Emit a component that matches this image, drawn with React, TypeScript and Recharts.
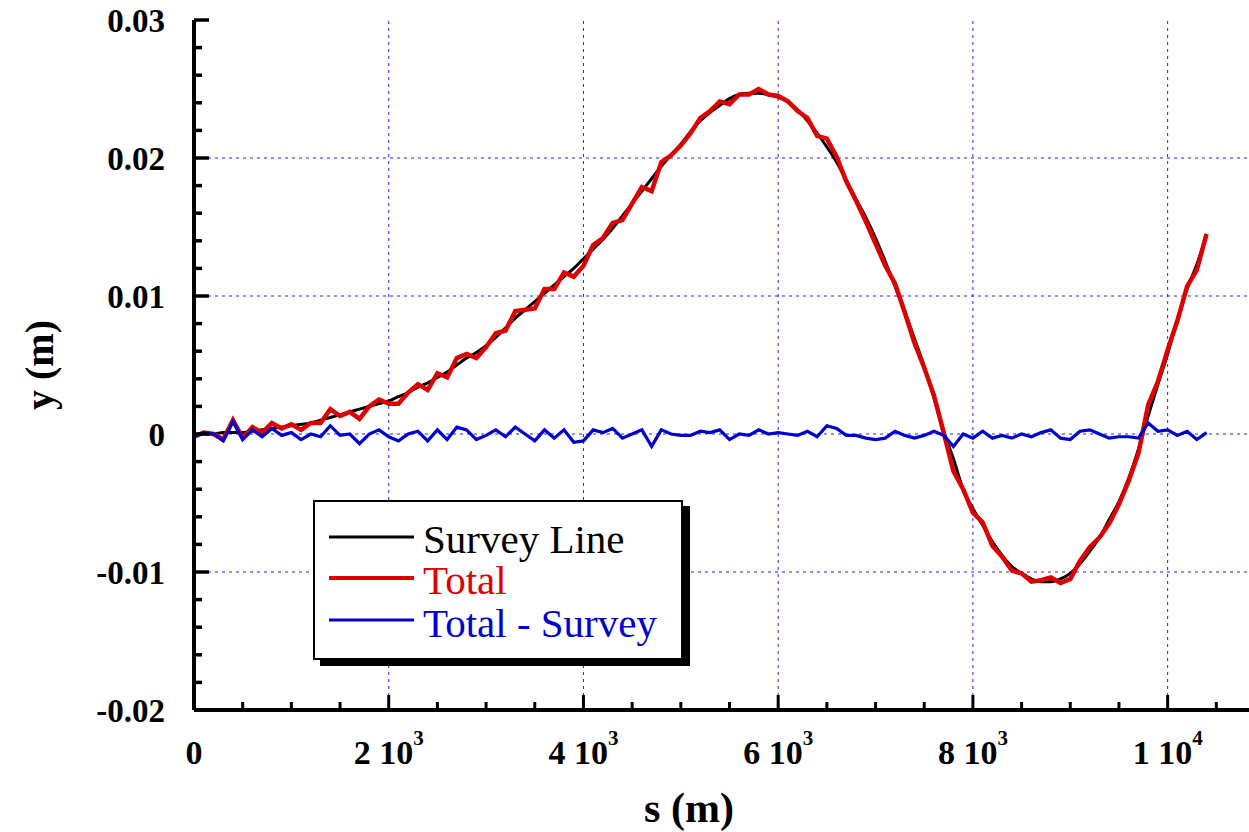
import { Legend, Line, LineChart, ReferenceLine, XAxis, YAxis } from "recharts";

// s positions (m) where the profile was sampled
const sValues = [
  0, 100, 200, 300, 400, 500, 600, 700, 800, 900,
  1000, 1100, 1200, 1300, 1400, 1500, 1600, 1700, 1800, 1900,
  2000, 2100, 2200, 2300, 2400, 2500, 2600, 2700, 2800, 2900,
  3000, 3100, 3200, 3300, 3400, 3500, 3600, 3700, 3800, 3900,
  4000, 4100, 4200, 4300, 4400, 4500, 4600, 4700, 4800, 4900,
  5000, 5100, 5200, 5300, 5400, 5500, 5600, 5700, 5800, 5900,
  6000, 6100, 6200, 6300, 6400, 6500, 6600, 6700, 6800, 6900,
  7000, 7100, 7200, 7300, 7400, 7500, 7600, 7700, 7800, 7900,
  8000, 8100, 8200, 8300, 8400, 8500, 8600, 8700, 8800, 8900,
  9000, 9100, 9200, 9300, 9400, 9500, 9600, 9700, 9800, 9900,
  10000, 10100, 10200, 10300, 10400,
];

const surveyLine = [
  0.0, 0.0, 0.0, 0.0001, 0.0001, 0.0001, 0.0002, 0.0003, 0.0004, 0.0005,
  0.0006, 0.0007, 0.0008, 0.001, 0.0012, 0.0014, 0.0016, 0.0018, 0.002, 0.0022,
  0.0024, 0.0027, 0.003, 0.0034, 0.0037, 0.0041, 0.0045, 0.005, 0.0055, 0.0059,
  0.0064, 0.007, 0.0077, 0.0084, 0.009, 0.0096, 0.0102, 0.0108, 0.0114, 0.012,
  0.0127, 0.0134, 0.0141, 0.0149, 0.0158, 0.0167, 0.0176, 0.0185, 0.0194, 0.0202,
  0.021, 0.0219, 0.0227, 0.0233, 0.0238, 0.0243, 0.0246, 0.0247, 0.0247, 0.0246,
  0.0244, 0.0241, 0.0235, 0.0227, 0.0218, 0.0208, 0.0197, 0.0184, 0.017, 0.0157,
  0.0142, 0.0125, 0.0107, 0.0089, 0.0069, 0.0049, 0.0026, 0.0002, -0.0018, -0.004,
  -0.0054, -0.0066, -0.0078, -0.0088, -0.0096, -0.0101, -0.0105, -0.0107, -0.0107, -0.0105,
  -0.0101, -0.0094, -0.0085, -0.0075, -0.0062, -0.0049, -0.0032, -0.0011, 0.0013, 0.0036,
  0.0058, 0.0083, 0.0105, 0.0123, 0.0144,
];

const totalLine = [
  -0.0002, 0.0001, 0.0, -0.0004, 0.001, -0.0003, 0.0005, 0.0001, 0.0008, 0.0004,
  0.0007, 0.0003, 0.0008, 0.0008, 0.0018, 0.0013, 0.0016, 0.0011, 0.002, 0.0025,
  0.0022, 0.0022, 0.003, 0.0036, 0.0032, 0.0044, 0.0041, 0.0055, 0.0058, 0.0055,
  0.0063, 0.0073, 0.0075, 0.0089, 0.009, 0.0091, 0.0105, 0.0105, 0.0117, 0.0114,
  0.0122, 0.0137, 0.0142, 0.0153, 0.0155, 0.0167, 0.0179, 0.0176, 0.0197, 0.0202,
  0.0209, 0.0218, 0.0229, 0.0234, 0.0241, 0.0239, 0.0246, 0.0246, 0.025, 0.0246,
  0.0245, 0.0241, 0.0234, 0.0229, 0.0216, 0.0214, 0.0201, 0.0183, 0.0169, 0.0154,
  0.0138, 0.0122, 0.0109, 0.0088, 0.0066, 0.0048, 0.0028, 0.0001, -0.0027, -0.004,
  -0.0057, -0.0064, -0.0081, -0.0089, -0.0099, -0.0101, -0.0107, -0.0106, -0.0104, -0.0108,
  -0.0105, -0.0092, -0.0082, -0.0075, -0.0065, -0.0051, -0.0034, -0.0014, 0.0021, 0.0038,
  0.0061, 0.0082, 0.0107, 0.0119, 0.0145,
];

const totalMinusSurvey = [
  -0.0002, 0.0001, 0.0, -0.0005, 0.0009, -0.0004, 0.0003, -0.0002, 0.0004, -0.0001,
  0.0001, -0.0004, 0.0, -0.0002, 0.0006, -0.0001, 0.0, -0.0007, 0.0, 0.0003,
  -0.0002, -0.0005, 0.0, 0.0002, -0.0005, 0.0003, -0.0004, 0.0005, 0.0003, -0.0004,
  -0.0001, 0.0003, -0.0002, 0.0005, 0.0, -0.0005, 0.0003, -0.0003, 0.0003, -0.0006,
  -0.0005, 0.0003, 0.0001, 0.0004, -0.0003, 0.0, 0.0003, -0.0009, 0.0003, 0.0,
  -0.0001, -0.0001, 0.0002, 0.0001, 0.0003, -0.0004, 0.0, -0.0001, 0.0003, 0.0,
  0.0001, 0.0, -0.0001, 0.0002, -0.0002, 0.0006, 0.0004, -0.0001, -0.0001, -0.0003,
  -0.0004, -0.0003, 0.0002, -0.0001, -0.0003, -0.0001, 0.0002, -0.0001, -0.0009, 0.0,
  -0.0003, 0.0002, -0.0003, -0.0001, -0.0003, 0.0, -0.0002, 0.0001, 0.0003, -0.0003,
  -0.0004, 0.0002, 0.0003, 0.0, -0.0003, -0.0002, -0.0002, -0.0003, 0.0008, 0.0002,
  0.0003, -0.0001, 0.0002, -0.0004, 0.0001,
];

const xTicks = [
  0, 500, 1000, 1500, 2000, 2500, 3000, 3500, 4000, 4500, 5000,
  5500, 6000, 6500, 7000, 7500, 8000, 8500, 9000, 9500, 10000, 10500,
];
const xMajor = [0, 2000, 4000, 6000, 8000, 10000];
const xTickText = ["0", "2 10", "4 10", "6 10", "8 10", "1 10"];
const xTickPower = ["", "3", "3", "3", "3", "4"];

const yTicks = [
  -0.02, -0.018, -0.016, -0.014, -0.012, -0.01, -0.008, -0.006, -0.004, -0.002,
  0, 0.002, 0.004, 0.006, 0.008, 0.01, 0.012, 0.014, 0.016, 0.018, 0.02,
  0.022, 0.024, 0.026, 0.028, 0.03,
];
const yMajor = [-0.02, -0.01, 0, 0.01, 0.02, 0.03];
const yTickText = ["-0.02", "-0.01", "0", "0.01", "0.02", "0.03"];

const gridX = [2000, 4000, 6000, 8000, 10000];
const gridY = [-0.01, 0, 0.01, 0.02];

const seriesNames = ["Survey Line", "Total", "Total - Survey"];
const seriesColors = ["#000000", "#dd0000", "#0000cc"];

const data = sValues.map((s, i) => ({
  s,
  survey: surveyLine[i],
  total: totalLine[i],
  diff: totalMinusSurvey[i],
}));

const serif = "'Liberation Serif', 'Times New Roman', serif";
const MAJOR_LEN = 15;
const MINOR_LEN = 8;
const GRID = "#2020ff";

function BottomTick(props: any) {
  const { x, y, payload } = props;
  const i = xMajor.indexOf(payload.value);
  const len = i >= 0 ? MAJOR_LEN : MINOR_LEN;
  return (
    <g>
      <line x1={x} x2={x} y1={y} y2={y - len} stroke="#000" strokeWidth={3} />
      {i >= 0 && (
        <text
          x={x}
          y={y + 54}
          textAnchor="middle"
          fontFamily={serif}
          fontWeight="bold"
          fontSize={34}
          fill="#000"
        >
          {xTickText[i]}
          {xTickPower[i] && (
            <tspan dy={-19} fontSize={21}>
              {xTickPower[i]}
            </tspan>
          )}
        </text>
      )}
    </g>
  );
}

function TopTick(props: any) {
  const { x, y, payload } = props;
  const len = xMajor.includes(payload.value) ? MAJOR_LEN : MINOR_LEN;
  return <line x1={x} x2={x} y1={y} y2={y + len} stroke="#000" strokeWidth={3} />;
}

function LeftTick(props: any) {
  const { x, y, payload } = props;
  const i = yMajor.indexOf(payload.value);
  const len = i >= 0 ? MAJOR_LEN : MINOR_LEN;
  return (
    <g>
      <line x1={x} x2={x + len} y1={y} y2={y} stroke="#000" strokeWidth={3.5} />
      {i >= 0 && (
        <text
          x={x - 29}
          y={y + 12}
          textAnchor="end"
          fontFamily={serif}
          fontWeight="bold"
          fontSize={33}
          fill="#000"
        >
          {yTickText[i]}
        </text>
      )}
    </g>
  );
}

function RightTick(props: any) {
  const { x, y, payload } = props;
  const len = yMajor.includes(payload.value) ? MAJOR_LEN : MINOR_LEN;
  return <line x1={x} x2={x - len} y1={y} y2={y} stroke="#000" strokeWidth={3.5} />;
}

function YTitle(props: any) {
  const { viewBox } = props;
  const cx = viewBox.x + 53;
  const cy = viewBox.y + viewBox.height / 2;
  return (
    <text
      x={cx}
      y={cy}
      transform={`rotate(-90 ${cx} ${cy})`}
      textAnchor="middle"
      fontFamily={serif}
      fontWeight="bold"
      fontSize={40}
      fill="#000"
    >
      y (m)
    </text>
  );
}

function XTitle(props: any) {
  const { viewBox } = props;
  return (
    <text
      x={689}
      y={viewBox.y + 112}
      textAnchor="middle"
      fontFamily={serif}
      fontWeight="bold"
      fontSize={42}
      fill="#000"
    >
      s (m)
    </text>
  );
}

function LegendBox() {
  const rowLine = [37, 78, 120];
  const rowText = [53, 94, 137];
  const widths = [3, 4, 3];
  return (
    <div
      style={{
        width: 370,
        height: 160,
        border: "2px solid #000",
        background: "#fff",
        boxShadow: "7px 6px 0 #000",
        boxSizing: "border-box",
      }}
    >
      <svg width={366} height={156} style={{ display: "block" }}>
        {seriesNames.map((name, i) => (
          <g key={name}>
            <line
              x1={14}
              x2={99}
              y1={rowLine[i] - 2}
              y2={rowLine[i] - 2}
              stroke={seriesColors[i]}
              strokeWidth={widths[i]}
            />
            <text
              x={108}
              y={rowText[i] - 2}
              fontFamily={serif}
              fontSize={41}
              fill={seriesColors[i]}
            >
              {name}
            </text>
          </g>
        ))}
      </svg>
    </div>
  );
}

export default function App() {
  return (
    <div
      style={{
        position: "absolute",
        left: 0,
        top: 0,
        width: 1249,
        height: 832,
        overflow: "hidden",
        background: "#fff",
      }}
    >
      <LineChart
        width={1270}
        height={832}
        data={data}
        margin={{ top: 20, right: 5, bottom: 0, left: 0 }}
      >
        <XAxis
          xAxisId="bottom"
          dataKey="s"
          type="number"
          domain={[0, 11000]}
          allowDataOverflow
          ticks={xTicks}
          interval={0}
          tickSize={0}
          tickMargin={0}
          height={122}
          axisLine={{ stroke: "#000", strokeWidth: 4 }}
          tickLine={false}
          tick={<BottomTick />}
          label={<XTitle />}
        />
        <XAxis
          xAxisId="top"
          orientation="top"
          dataKey="s"
          type="number"
          domain={[0, 11000]}
          allowDataOverflow
          ticks={xTicks}
          interval={0}
          tickSize={0}
          tickMargin={0}
          height={0}
          axisLine={{ stroke: "#000", strokeWidth: 4 }}
          tickLine={false}
          tick={<TopTick />}
        />
        <YAxis
          yAxisId="left"
          type="number"
          domain={[-0.02, 0.03]}
          allowDataOverflow
          ticks={yTicks}
          interval={0}
          tickSize={0}
          tickMargin={0}
          width={194}
          axisLine={{ stroke: "#000", strokeWidth: 4 }}
          tickLine={false}
          tick={<LeftTick />}
          label={<YTitle />}
        />
        <YAxis
          yAxisId="right"
          orientation="right"
          type="number"
          domain={[-0.02, 0.03]}
          allowDataOverflow
          ticks={yTicks}
          interval={0}
          tickSize={0}
          tickMargin={0}
          width={0}
          axisLine={{ stroke: "#000", strokeWidth: 4 }}
          tickLine={false}
          tick={<RightTick />}
        />
        {gridX.map((v) => (
          <ReferenceLine
            key={`gx${v}`}
            x={v}
            xAxisId="bottom"
            yAxisId="left"
            stroke={GRID}
            strokeWidth={1}
            strokeDasharray="3 4"
          />
        ))}
        {gridY.map((v) => (
          <ReferenceLine
            key={`gy${v}`}
            y={v}
            xAxisId="bottom"
            yAxisId="left"
            stroke={GRID}
            strokeWidth={1}
            strokeDasharray="3 4"
          />
        ))}
        <Line
          xAxisId="bottom"
          yAxisId="left"
          type="monotone"
          dataKey="survey"
          name={seriesNames[0]}
          stroke={seriesColors[0]}
          strokeWidth={3}
          dot={false}
          isAnimationActive={false}
        />
        <Line
          xAxisId="bottom"
          yAxisId="left"
          type="linear"
          dataKey="total"
          name={seriesNames[1]}
          stroke={seriesColors[1]}
          strokeWidth={4.5}
          dot={false}
          isAnimationActive={false}
        />
        <Line
          xAxisId="bottom"
          yAxisId="left"
          type="linear"
          dataKey="diff"
          name={seriesNames[2]}
          stroke={seriesColors[2]}
          strokeWidth={3.2}
          dot={false}
          isAnimationActive={false}
        />
        <Legend
          layout="vertical"
          align="center"
          verticalAlign="middle"
          content={<LegendBox />}
          wrapperStyle={{ left: 313, top: 500, width: 378, height: 168 }}
        />
      </LineChart>
    </div>
  );
}
